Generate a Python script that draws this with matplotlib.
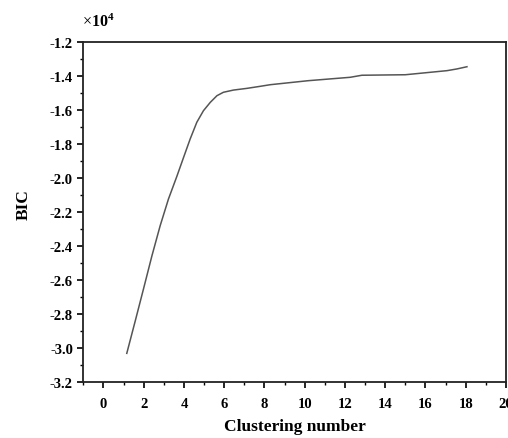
import matplotlib
matplotlib.use("Agg")
import matplotlib.pyplot as plt
from matplotlib.ticker import AutoMinorLocator

# Clustering number vs BIC (BIC in units of 1e4)
clusters = [1.16, 1.58, 1.99, 2.41, 2.82, 3.23, 3.65, 3.98, 4.31, 4.64, 4.97,
            5.31, 5.64, 5.96, 6.46, 7.13, 7.79, 8.29, 10.17, 12.26, 12.84,
            15.0, 17.07, 17.56, 18.06]
bic = [-3.03, -2.84, -2.652, -2.457, -2.28, -2.124, -1.99, -1.88, -1.771,
       -1.673, -1.605, -1.556, -1.517, -1.497, -1.484, -1.474, -1.462, -1.4525,
       -1.429, -1.409, -1.397, -1.394, -1.370, -1.360, -1.347]
x_ticks = list(range(0, 21, 2))
y_ticks = [-3.2, -3.0, -2.8, -2.6, -2.4, -2.2, -2.0, -1.8, -1.6, -1.4, -1.2]

plt.rcParams['font.family'] = ['Liberation Serif', 'DejaVu Serif']
plt.rcParams['mathtext.fontset'] = 'custom'
plt.rcParams['mathtext.rm'] = 'Liberation Serif'
plt.rcParams['mathtext.bf'] = 'Liberation Serif:bold'

fig = plt.figure(figsize=(5.08, 4.39), dpi=100)
ax = fig.add_axes([83.3/508, 1-383.3/439, (506-83.3)/508, (383.3-42.7)/439])

ax.plot(clusters, bic, color='#555555', lw=1.1, solid_joinstyle='round')

ax.set_xlim(-1, 20)
ax.set_ylim(-3.2, -1.2)
ax.set_xticks(x_ticks)
ax.set_yticks(y_ticks)
ax.set_yticklabels([f"{v:.1f}" for v in y_ticks])
ax.xaxis.set_minor_locator(AutoMinorLocator(2))
ax.yaxis.set_minor_locator(AutoMinorLocator(2))

for s in ax.spines.values():
    s.set_linewidth(1.3)
    s.set_color('#222222')

ax.tick_params(which='major', direction='out', length=4.5, width=1.2,
               labelsize=10.5, top=False, right=False, pad=3)
ax.tick_params(which='minor', direction='out', length=2.2, width=1.0,
               top=False, right=False)
ax.tick_params(axis='x', which='major', pad=6)
for lab in ax.get_xticklabels() + ax.get_yticklabels():
    lab.set_fontweight('bold')

ax.set_xlabel('Clustering number', fontsize=12.5, fontweight='bold', labelpad=6)
ax.set_ylabel('BIC', fontsize=12.5, fontweight='bold', labelpad=10)
ax.yaxis.set_label_coords(-0.122, 0.526)

fig.text(82/508, 1-22/439, r'$\times\mathbf{10^{4}}$', fontsize=11.5,
         ha='left', va='center')

fig.savefig('out.png', dpi=100)
